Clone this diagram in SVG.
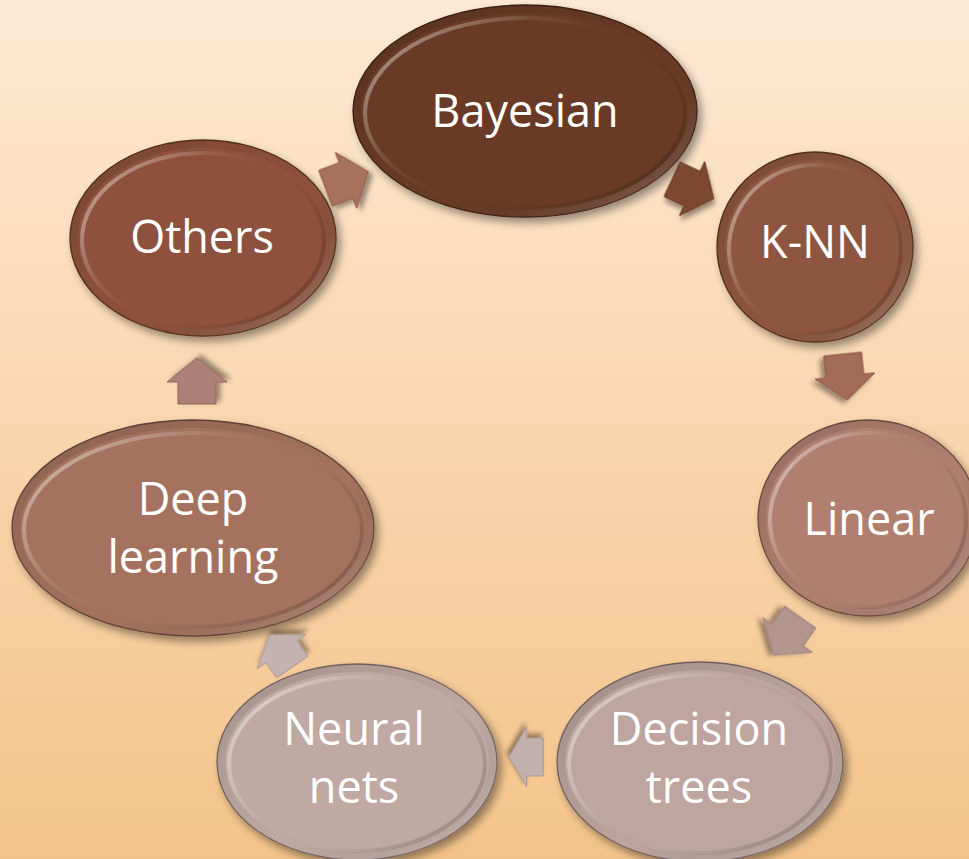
<svg xmlns="http://www.w3.org/2000/svg" width="969" height="859" viewBox="0 0 969 859">
<defs>
<linearGradient id="bg" x1="0" y1="0" x2="0" y2="1">
<stop offset="0" stop-color="#fde9d5"/>
<stop offset="0.5" stop-color="#f9d6ae"/>
<stop offset="1" stop-color="#f4c38a"/>
</linearGradient>
<linearGradient id="rim" x1="0" y1="0.2" x2="1" y2="0.8">
<stop offset="0" stop-color="#ffffff" stop-opacity="0.45"/>
<stop offset="0.3" stop-color="#ffffff" stop-opacity="0.08"/>
<stop offset="0.6" stop-color="#000000" stop-opacity="0"/>
<stop offset="1" stop-color="#000000" stop-opacity="0.2"/>
</linearGradient>
<linearGradient id="rimOuter" x1="0" y1="0" x2="1" y2="1">
<stop offset="0" stop-color="#000000" stop-opacity="0.15"/>
<stop offset="0.6" stop-color="#000000" stop-opacity="0"/>
<stop offset="1" stop-color="#ffffff" stop-opacity="0.3"/>
</linearGradient>
<filter id="shadow" x="-20%" y="-20%" width="140%" height="140%">
<feGaussianBlur in="SourceAlpha" stdDeviation="4"/>
<feOffset dx="4" dy="5" result="b"/>
<feComponentTransfer><feFuncA type="linear" slope="0.4"/></feComponentTransfer>
<feMerge><feMergeNode/><feMergeNode in="SourceGraphic"/></feMerge>
</filter>
<filter id="ashadow" x="-30%" y="-30%" width="160%" height="160%">
<feGaussianBlur in="SourceAlpha" stdDeviation="2.5"/>
<feOffset dx="3" dy="4" result="b"/>
<feComponentTransfer><feFuncA type="linear" slope="0.4"/></feComponentTransfer>
<feMerge><feMergeNode/><feMergeNode in="SourceGraphic"/></feMerge>
</filter>
<path id="arr" d="M -23,-19 L -1,-19 L -1,-30 L 23,0 L -1,30 L -1,19 L -23,19 Z"/>
</defs>
<style>
.lbl{font-family:"Open Sans","Noto Sans","Liberation Sans",sans-serif;font-size:45px;fill:#ffffff;text-anchor:middle}
.edge{stroke-width:1.3}
.rim{fill:none;stroke:url(#rim);stroke-width:4}
.orim{fill:none;stroke:url(#rimOuter);stroke-width:8}
.arrow{stroke-width:1}
</style>
<rect x="0" y="0" width="969" height="859" fill="url(#bg)"/>

<g id="node-bayesian">
<ellipse cx="525" cy="111" rx="172" ry="106" fill="#693a25" stroke="#3e2013" class="edge" filter="url(#shadow)"/>
<ellipse cx="525" cy="111" rx="168" ry="102" class="orim"/>
<ellipse cx="525" cy="113" rx="160" ry="95" class="rim"/>
<text x="525" y="127" class="lbl">Bayesian</text>
</g>

<g id="node-knn">
<ellipse cx="815" cy="247" rx="98" ry="95" fill="#8e5640" stroke="#55301f" class="edge" filter="url(#shadow)"/>
<ellipse cx="815" cy="247" rx="94" ry="91" class="orim"/>
<ellipse cx="815" cy="249" rx="86" ry="84" class="rim"/>
<text x="815" y="258" class="lbl">K-NN</text>
</g>

<g id="node-linear">
<ellipse cx="868" cy="518" rx="110" ry="98" fill="#b07f70" stroke="#6e4b40" class="edge" filter="url(#shadow)"/>
<ellipse cx="868" cy="518" rx="106" ry="94" class="orim"/>
<ellipse cx="868" cy="520" rx="98" ry="87" class="rim"/>
<text x="869" y="535" class="lbl">Linear</text>
</g>

<g id="node-decision">
<ellipse cx="700" cy="762" rx="143" ry="100" fill="#bea59f" stroke="#766460" class="edge" filter="url(#shadow)"/>
<ellipse cx="700" cy="762" rx="139" ry="96" class="orim"/>
<ellipse cx="700" cy="764" rx="131" ry="89" class="rim"/>
<text x="699" y="745" class="lbl">Decision</text>
<text x="699" y="803" class="lbl">trees</text>
</g>

<g id="node-neural">
<ellipse cx="357" cy="762" rx="140" ry="98" fill="#c0a9a3" stroke="#786663" class="edge" filter="url(#shadow)"/>
<ellipse cx="357" cy="762" rx="136" ry="94" class="orim"/>
<ellipse cx="357" cy="764" rx="128" ry="87" class="rim"/>
<text x="354" y="745" class="lbl">Neural</text>
<text x="354" y="803" class="lbl">nets</text>
</g>

<g id="node-deep">
<ellipse cx="193" cy="528" rx="181" ry="108" fill="#a5725f" stroke="#65433a" class="edge" filter="url(#shadow)"/>
<ellipse cx="193" cy="528" rx="177" ry="104" class="orim"/>
<ellipse cx="193" cy="530" rx="169" ry="97" class="rim"/>
<text x="193" y="515" class="lbl">Deep</text>
<text x="193" y="573" class="lbl">learning</text>
</g>

<g id="node-others">
<ellipse cx="203" cy="238" rx="133" ry="98" fill="#8e513d" stroke="#55301f" class="edge" filter="url(#shadow)"/>
<ellipse cx="203" cy="238" rx="129" ry="94" class="orim"/>
<ellipse cx="203" cy="240" rx="121" ry="87" class="rim"/>
<text x="202" y="253" class="lbl">Others</text>
</g>

<g id="connectors">
<use href="#arr" class="arrow" fill="#a8705f" stroke="#8a5444" filter="url(#ashadow)" transform="translate(347,180) rotate(-21)"/>
<use href="#arr" class="arrow" fill="#7d4630" stroke="#643523" filter="url(#ashadow)" transform="translate(693,189) rotate(25)"/>
<use href="#arr" class="arrow" fill="#a46b5a" stroke="#875444" filter="url(#ashadow)" transform="translate(845,377) rotate(84)"/>
<use href="#arr" class="arrow" fill="#b39590" stroke="#977a75" filter="url(#ashadow)" transform="translate(787,636) rotate(125)"/>
<use href="#arr" class="arrow" fill="#c3b1ae" stroke="#a59390" filter="url(#ashadow)" transform="translate(526,757) rotate(180) scale(0.75,1)"/>
<use href="#arr" class="arrow" fill="#c4b3b0" stroke="#a69592" filter="url(#ashadow)" transform="translate(281,651) rotate(-125) scale(0.85,1)"/>
<use href="#arr" class="arrow" fill="#ad8177" stroke="#90665d" filter="url(#ashadow)" transform="translate(197,381) rotate(-90)"/>
</g>
</svg>
